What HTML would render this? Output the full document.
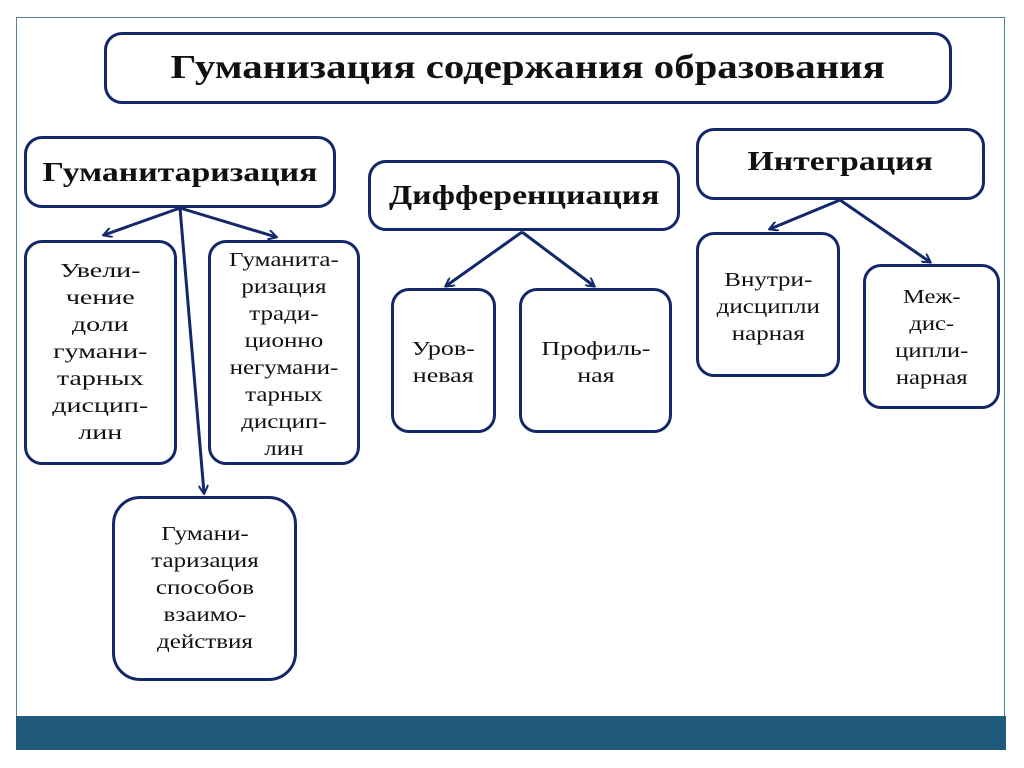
<!DOCTYPE html>
<html><head><meta charset="utf-8"><style>
body{margin:0;width:1024px;height:768px;background:#fff;position:relative;overflow:hidden;font-family:"Liberation Serif","Noto Serif CJK SC",serif;}
.frame{position:absolute;left:16px;top:17px;width:989px;height:732px;border:1px solid #5a7f99;box-sizing:border-box;}
.bar{position:absolute;left:16px;top:716px;width:990px;height:34px;background:#1f5a7a;}
.b{position:absolute;border:3px solid #13286a;border-radius:18px;box-sizing:border-box;display:flex;align-items:center;justify-content:center;text-align:center;color:#111;background:#fff;}
.b span{display:inline-block;white-space:nowrap;}
.h{font-weight:bold;font-size:27px;}
.h span{transform:scaleX(1.25);}
.t{font-size:20px;line-height:27px;}
.t span{transform:scaleX(1.25);}
svg{position:absolute;left:0;top:0;}
</style></head><body>
<div class="frame"></div>
<div class="bar"></div>
<svg width="1024" height="768">
<defs><marker id="a" markerWidth="10" markerHeight="10" refX="8" refY="5" orient="auto" markerUnits="userSpaceOnUse"><path d="M0,0 L9,5 L0,10" fill="none" stroke="#13286a" stroke-width="2"/></marker></defs>
<g stroke="#13286a" stroke-width="3" fill="none" marker-end="url(#a)">
<line x1="180" y1="208" x2="104" y2="235"/>
<line x1="180" y1="208" x2="276" y2="237"/>
<line x1="180" y1="208" x2="204" y2="493"/>
<line x1="522" y1="232" x2="446" y2="286"/>
<line x1="522" y1="232" x2="594" y2="286"/>
<line x1="840" y1="200" x2="770" y2="229"/>
<line x1="840" y1="200" x2="930" y2="262"/>
</g>
</svg>
<div class="b" style="left:104px;top:32px;width:848px;height:72px;font-weight:bold;font-size:34px;"><span style="transform:scaleX(1.2)">Гуманизация содержания образования</span></div>
<div class="b h" style="left:24px;top:136px;width:312px;height:72px;"><span>Гуманитаризация</span></div>
<div class="b h" style="left:368px;top:160px;width:312px;height:71px;"><span>Дифференциация</span></div>
<div class="b h" style="left:696px;top:128px;width:289px;height:72px;padding-bottom:6px;"><span>Интеграция</span></div>
<div class="b t" style="left:24px;top:240px;width:153px;height:225px;"><span style="transform:scaleX(1.4)">Увели-<br>чение<br>доли<br>гумани-<br>тарных<br>дисцип-<br>лин</span></div>
<div class="b t" style="left:208px;top:240px;width:152px;height:225px;padding-top:4px;"><span>Гуманита-<br>ризация<br>тради-<br>ционно<br>негумани-<br>тарных<br>дисцип-<br>лин</span></div>
<div class="b t" style="left:112px;top:496px;width:185px;height:185px;border-radius:28px;"><span>Гумани-<br>таризация<br>способов<br>взаимо-<br>действия</span></div>
<div class="b t" style="left:391px;top:288px;width:105px;height:145px;padding-top:4px;"><span style="transform:scaleX(1.3)">Уров-<br>невая</span></div>
<div class="b t" style="left:519px;top:288px;width:153px;height:145px;padding-top:4px;"><span style="transform:scaleX(1.3)">Профиль-<br>ная</span></div>
<div class="b t" style="left:696px;top:232px;width:144px;height:145px;padding-top:6px;"><span>Внутри-<br>дисципли<br>нарная</span></div>
<div class="b t" style="left:863px;top:264px;width:137px;height:145px;padding-top:2px;"><span style="transform:scaleX(1.23)">Меж-<br>дис-<br>ципли-<br>нарная</span></div>
</body></html>
